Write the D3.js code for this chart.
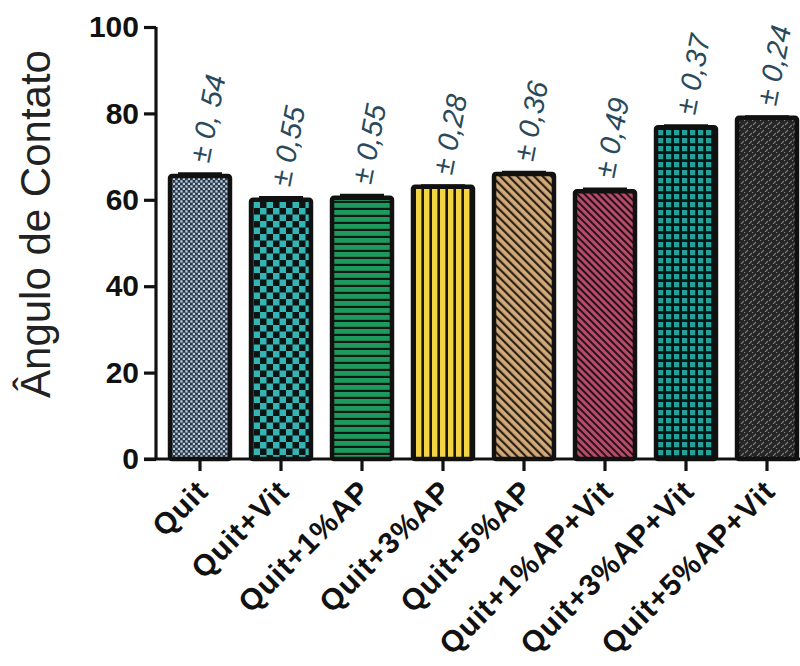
<!DOCTYPE html>
<html>
<head>
<meta charset="utf-8">
<script src="https://cdn.jsdelivr.net/npm/d3@7"></script>
<style>
  html, body { margin: 0; padding: 0; background: #fff; }
  svg { display: block; }
</style>
</head>
<body>
<svg id="chart" width="800" height="666"></svg>
<script>
// Contact angle per formulation
const categories = ["Quit", "Quit+Vit", "Quit+1%AP", "Quit+3%AP", "Quit+5%AP",
                    "Quit+1%AP+Vit", "Quit+3%AP+Vit", "Quit+5%AP+Vit"];
const values = [65.5, 60, 60.5, 63, 66, 62, 76.8, 79];
const errors = [0.54, 0.55, 0.55, 0.28, 0.36, 0.49, 0.37, 0.24];
const errorLabels = ["± 0, 54", "± 0,55", "± 0,55", "± 0,28", "± 0,36", "± 0,49", "± 0,37", "± 0,24"];
const yTicks = [0, 20, 40, 60, 80, 100];
const yTitle = "Ângulo de Contato";

const svg = d3.select("#chart");
const x0 = 159.5, x1 = 807.5, yBase = 459, yTop = 27, axisX = 156;

const x = d3.scaleBand().domain(categories).range([x0, x1])
  .paddingInner(0.26).paddingOuter(0.13);
const y = d3.scaleLinear().domain([0, 100]).range([yBase, yTop]);

// Fill patterns, one per bar
const defs = svg.append("defs");
function pattern(id, w, h, build, rot) {
  const p = defs.append("pattern").attr("id", id)
    .attr("patternUnits", "userSpaceOnUse").attr("width", w).attr("height", h);
  if (rot) p.attr("patternTransform", `rotate(${rot})`);
  build(p);
}
// fine dotted
pattern("p0", 5, 5, p => {
  p.append("rect").attr("width", 5).attr("height", 5).attr("fill", "#2a3848");
  p.append("rect").attr("x", 0.3).attr("y", 0.3).attr("width", 2.3).attr("height", 2.3).attr("fill", "#bccfdf");
  p.append("rect").attr("x", 2.8).attr("y", 2.8).attr("width", 2.3).attr("height", 2.3).attr("fill", "#bccfdf");
});
// checkerboard
pattern("p1", 13, 13, p => {
  p.append("rect").attr("width", 13).attr("height", 13).attr("fill", "#0c1414");
  p.append("rect").attr("width", 6.5).attr("height", 6.5).attr("fill", "#35b4b4");
  p.append("rect").attr("x", 6.5).attr("y", 6.5).attr("width", 6.5).attr("height", 6.5).attr("fill", "#35b4b4");
});
// horizontal stripes
pattern("p2", 7, 7, p => {
  p.append("rect").attr("width", 7).attr("height", 7).attr("fill", "#0e1a12");
  p.append("rect").attr("width", 7).attr("height", 4.8).attr("fill", "#1f9a5e");
});
// vertical stripes
pattern("p3", 8, 8, p => {
  p.append("rect").attr("width", 8).attr("height", 8).attr("fill", "#1a1608");
  p.append("rect").attr("width", 5.4).attr("height", 8).attr("fill", "#f2d444");
});
// diagonal stripes (tan)
pattern("p4", 6, 6, p => {
  p.append("rect").attr("width", 6).attr("height", 6).attr("fill", "#d2aa7a");
  p.append("rect").attr("width", 2.2).attr("height", 6).attr("fill", "#2a2016");
}, -45);
// diagonal stripes (rose)
pattern("p5", 5, 5, p => {
  p.append("rect").attr("width", 5).attr("height", 5).attr("fill", "#b44c6a");
  p.append("rect").attr("width", 2).attr("height", 5).attr("fill", "#2a1018");
}, -45);
// grid squares
pattern("p6", 8, 8, p => {
  p.append("rect").attr("width", 8).attr("height", 8).attr("fill", "#0a1414");
  p.append("rect").attr("x", 2).attr("y", 2).attr("width", 5.2).attr("height", 5.2).attr("fill", "#22a298");
});
// dark speckle
pattern("p7", 8, 8, p => {
  p.append("rect").attr("width", 8).attr("height", 8).attr("fill", "#262626");
  p.append("path").attr("d", "M1,5 L4,2 M5,8 L8,5 M0,1 L1,0")
    .attr("stroke", "#7a7a7a").attr("stroke-width", 1.2).attr("fill", "none");
});

// Bars
svg.append("g").selectAll("rect").data(categories).join("rect")
  .attr("x", d => x(d))
  .attr("y", (d, i) => y(values[i]))
  .attr("width", x.bandwidth())
  .attr("height", (d, i) => yBase - y(values[i]))
  .attr("rx", 2)
  .attr("fill", (d, i) => `url(#p${i})`)
  .attr("stroke", "#111")
  .attr("stroke-width", 4.5);

// Error bars (upper)
const eg = svg.append("g").attr("stroke", "#111").attr("stroke-width", 3);
categories.forEach((c, i) => {
  const cx = x(c) + x.bandwidth() / 2;
  eg.append("line").attr("x1", cx).attr("x2", cx)
    .attr("y1", y(values[i])).attr("y2", y(values[i] + errors[i]));
  eg.append("line").attr("x1", cx - 22).attr("x2", cx + 22)
    .attr("y1", y(values[i] + errors[i])).attr("y2", y(values[i] + errors[i]));
});

// Error labels
svg.append("g").selectAll("text").data(categories).join("text")
  .attr("transform", (d, i) => `translate(${x(d) + x.bandwidth() / 2 + 9},${y(values[i] + errors[i]) - 10}) rotate(-79)`)
  .attr("font-family", "Liberation Sans, Arial, sans-serif")
  .attr("font-style", "italic")
  .attr("font-size", 29)
  .attr("fill", "#2a4a5c")
  .text((d, i) => errorLabels[i]);

// Y axis
const yAxis = svg.append("g").attr("transform", `translate(${axisX},0)`)
  .call(d3.axisLeft(y).tickValues(yTicks).tickSize(12).tickPadding(5).tickFormat(d3.format("d")));
yAxis.select(".domain").attr("stroke", "#111").attr("stroke-width", 3.2)
  .attr("d", `M0,${yTop}V${yBase}`);
yAxis.selectAll(".tick line").attr("stroke", "#111").attr("stroke-width", 3.2);
yAxis.selectAll(".tick text")
  .attr("font-family", "Liberation Sans, Arial, sans-serif")
  .attr("font-weight", "bold").attr("font-size", 30).attr("fill", "#111");

// X axis
const xAxis = svg.append("g").attr("transform", `translate(0,${yBase})`)
  .call(d3.axisBottom(x).tickSize(12).tickPadding(6));
xAxis.select(".domain").attr("stroke", "#111").attr("stroke-width", 3.2)
  .attr("d", `M${axisX - 12},0H800`);
xAxis.selectAll(".tick line").attr("stroke", "#111").attr("stroke-width", 3.2);
xAxis.selectAll(".tick text")
  .attr("font-family", "Liberation Sans, Arial, sans-serif")
  .attr("font-weight", "bold").attr("font-size", 30).attr("fill", "#111")
  .attr("letter-spacing", 1)
  .attr("text-anchor", "end")
  .attr("dy", 0)
  .attr("transform", "translate(10,34) rotate(-45)")
  .attr("y", 0).attr("x", 0);

// Y title
svg.append("text")
  .attr("transform", `translate(50,224) rotate(-90)`)
  .attr("text-anchor", "middle")
  .attr("font-family", "Liberation Sans, Arial, sans-serif")
  .attr("font-size", 42)
  .attr("fill", "#222")
  .text(yTitle);
</script>
</body>
</html>
